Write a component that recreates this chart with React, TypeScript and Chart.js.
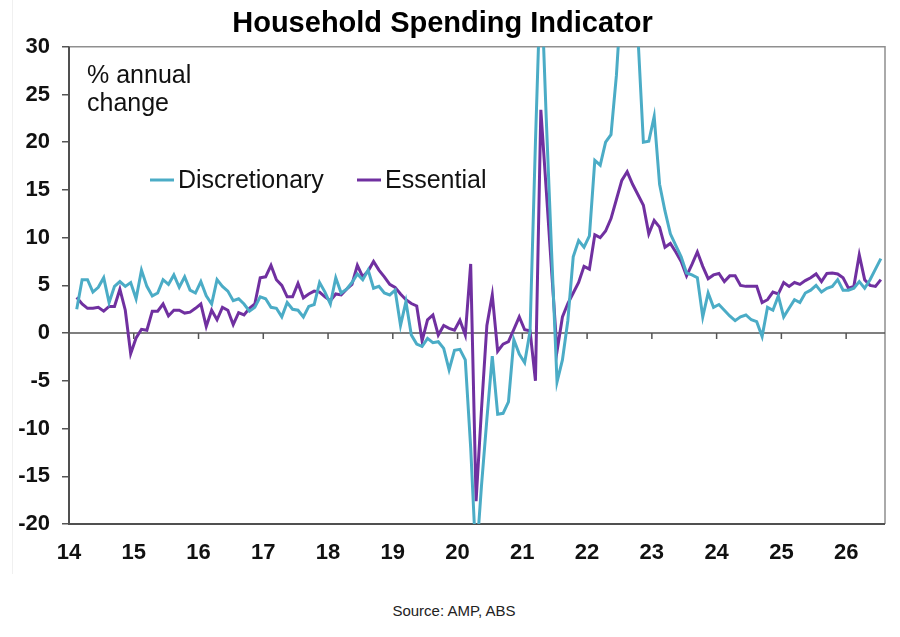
import { useEffect, useRef } from 'react';
import { Chart, registerables } from 'chart.js';

Chart.register(...registerables);

// monthly data, first observation ~Feb 2014 (axis is in 2-digit years)
const FIRST_MONTH = 14 + 1.43 / 12;
const yearTicks = [14, 15, 16, 17, 18, 19, 20, 21, 22, 23, 24, 25, 26];

const discretionary = [
  2.5, 5.6, 5.6, 4.3, 4.8, 5.8, 3.2, 4.9, 5.4, 4.9,
  5.3, 3.6, 6.6, 4.9, 3.9, 4.2, 5.6, 5.1, 6.1, 4.8,
  5.9, 4.5, 4.2, 5.4, 3.9, 3.05, 5.6, 4.9, 4.4, 3.4,
  3.6, 3.05, 2.3, 2.7, 3.8, 3.6, 2.7, 2.6, 1.7, 3.2,
  2.5, 2.4, 1.7, 2.8, 3.0, 5.3, 4.3, 3.05, 5.8, 4.2,
  4.6, 5.3, 6.2, 5.6, 6.6, 4.7, 4.9, 4.2, 4.0, 4.5,
  0.8, 3.3, -0.2, -1.15, -1.4, -0.55, -1.0, -0.9, -1.6, -3.85,
  -1.8, -1.7, -2.8, -12, -24, -16, -9, -2.4, -8.5, -8.4,
  -7.2, -0.7, -2.2, -3.1, 0.2, 20, 38, 22.5, 8.4, -5.1,
  -2.8, 1.3, 8.0, 9.7, 9.0, 10.2, 18.1, 17.6, 20.0, 20.8,
  27, 36, 42, 38, 31, 20.0, 20.1, 22.7, 15.6, 12.8,
  10.4, 9.2, 8.0, 6.3, 6.1, 5.8, 1.7, 4.2, 2.7, 3.0,
  2.4, 1.8, 1.3, 1.7, 1.9, 1.4, 1.2, -0.35, 2.7, 2.4,
  3.9, 1.7, 2.6, 3.5, 3.2, 4.2, 4.5, 5.0, 4.3, 4.7,
  4.9, 5.6, 4.5, 4.5, 4.7, 5.4, 4.7, 5.6, 6.7, 7.8,
];

const essential = [
  3.75, 3.05, 2.6, 2.6, 2.7, 2.3, 2.8, 2.8, 4.6, 2.4,
  -2.15, -0.5, 0.4, 0.3, 2.3, 2.3, 3.05, 1.8, 2.4, 2.4,
  2.1, 2.2, 2.6, 3.05, 0.7, 2.4, 1.4, 2.7, 2.4, 0.9,
  2.15, 1.9, 2.6, 3.05, 5.8, 5.9, 7.1, 5.6, 5.0, 3.8,
  3.8, 5.2, 3.7, 4.1, 4.4, 4.3, 3.8, 3.4, 4.1, 4.0,
  4.6, 5.1, 7.1, 5.9, 6.5, 7.5, 6.6, 5.9, 5.1, 4.8,
  4.1, 3.5, 3.1, 2.85, -0.8, 1.4, 1.9, -0.2, 0.8, 0.5,
  0.3, 1.35, -0.2, 7.25, -17.6, -8, 0.8, 4.0, -1.9, -1.15,
  -0.9, 0.4, 1.7, 0.35, 0.25, -5.0, 23.4, 15, 6.5, -1.9,
  1.7, 3.1, 4.2, 5.3, 7.0, 6.7, 10.3, 10.0, 10.7, 12.0,
  14.0, 16.0, 16.9, 15.6, 14.5, 13.4, 10.4, 11.8, 11.1, 9.0,
  9.4, 8.5, 7.5, 6.0, 7.2, 8.5, 7.0, 5.7, 6.1, 6.25,
  5.4, 6.0, 6.0, 5.0, 4.9, 4.9, 4.9, 3.2, 3.5, 4.3,
  4.1, 5.3, 4.9, 5.3, 5.1, 5.5, 5.8, 6.2, 5.4, 6.25,
  6.3, 6.2, 5.8, 4.7, 4.9, 8.2, 5.6, 5.0, 4.9, 5.6,
];

const FONT = "'Liberation Sans', Arial, sans-serif";
const BLUE = '#4BACC6';
const PURPLE = '#7030A0';

const toPoints = (values: number[]) =>
  values.map((y, i) => ({ x: FIRST_MONTH + i / 12, y }));

// frame, zero line with year ticks, in-chart legend and unit note
const framePlugin = {
  id: 'frame',
  beforeDatasetsDraw(chart: any) {
    const { ctx, chartArea, scales } = chart;
    const { left, right, top, bottom } = chartArea;
    ctx.save();
    ctx.strokeStyle = '#8f8f8f';
    ctx.lineWidth = 1.5;
    ctx.beginPath();
    ctx.moveTo(left, top);
    ctx.lineTo(right, top);
    ctx.lineTo(right, bottom);
    ctx.stroke();

    ctx.strokeStyle = '#505050';
    ctx.lineWidth = 2;
    ctx.beginPath();
    ctx.moveTo(left, top);
    ctx.lineTo(left, bottom);
    ctx.lineTo(right, bottom);
    ctx.stroke();

    const zy = scales.y.getPixelForValue(0);
    ctx.strokeStyle = '#555';
    ctx.lineWidth = 1.5;
    ctx.beginPath();
    ctx.moveTo(left, zy);
    ctx.lineTo(right, zy);
    yearTicks.forEach((yr) => {
      const px = scales.x.getPixelForValue(yr);
      ctx.moveTo(px, zy);
      ctx.lineTo(px, zy + 6);
    });
    ctx.stroke();
    ctx.restore();
  },
  afterDraw(chart: any) {
    const { ctx } = chart;
    ctx.save();
    ctx.fillStyle = '#111';
    ctx.textBaseline = 'alphabetic';
    ctx.textAlign = 'left';
    ctx.font = `25px ${FONT}`;
    ctx.fillText('% annual', 87, 83);
    ctx.fillText('change', 87, 111);

    const items = [
      { x: 150, ds: chart.data.datasets[0] },
      { x: 357, ds: chart.data.datasets[1] },
    ];
    items.forEach(({ x, ds }) => {
      ctx.strokeStyle = ds.borderColor;
      ctx.lineWidth = 3;
      ctx.beginPath();
      ctx.moveTo(x, 180);
      ctx.lineTo(x + 24, 180);
      ctx.stroke();
      ctx.fillText(ds.label, x + 28, 188);
    });
    ctx.restore();
  },
};

export default function App() {
  const chartRef = useRef<HTMLCanvasElement>(null);

  useEffect(() => {
    if (!chartRef.current) return;

    const chart = new Chart(chartRef.current, {
      type: 'line',
      data: {
        datasets: [
          {
            label: 'Discretionary',
            data: toPoints(discretionary),
            borderColor: BLUE,
            backgroundColor: BLUE,
            borderWidth: 3,
            pointRadius: 0,
            tension: 0,
          },
          {
            label: 'Essential',
            data: toPoints(essential),
            borderColor: PURPLE,
            backgroundColor: PURPLE,
            borderWidth: 3,
            pointRadius: 0,
            tension: 0,
          },
        ],
      },
      options: {
        responsive: true,
        maintainAspectRatio: false,
        animation: false,
        layout: { padding: { top: 0, right: 15, bottom: 0, left: 0 } },
        plugins: {
          legend: { display: false },
          tooltip: { enabled: false },
          title: {
            display: true,
            text: 'Household Spending Indicator',
            color: '#000',
            font: { family: FONT, size: 29, weight: 'bold' },
            padding: { top: 7, bottom: 5 },
          },
        },
        scales: {
          x: {
            type: 'linear',
            min: 14,
            max: 26.6,
            afterFit: (scale: any) => { scale.height = 56; },
            grid: { display: false, drawTicks: false },
            border: { display: false },
            ticks: {
              stepSize: 1,
              includeBounds: false,
              padding: 16,
              color: '#111',
              font: { family: FONT, size: 22, weight: 'bold' },
            },
          },
          y: {
            min: -20,
            max: 30,
            afterFit: (scale: any) => { scale.width = 69; },
            grid: { drawOnChartArea: false, tickLength: 7, tickColor: '#555', lineWidth: 1.5 },
            border: { display: false },
            ticks: {
              stepSize: 5,
              padding: 12,
              color: '#111',
              font: { family: FONT, size: 22, weight: 'bold' },
            },
          },
        },
      },
      plugins: [framePlugin],
    });

    return () => {
      chart.destroy();
    };
  }, []);

  return (
    <div style={{ position: 'absolute', left: 0, top: 0, width: 900, height: 637, background: '#fff' }}>
      <div style={{ position: 'absolute', left: 12, top: 0, width: 1, height: 574, background: '#f0f0f0' }} />
      <div style={{ position: 'relative', width: 900, height: 580 }}>
        <canvas ref={chartRef} />
      </div>
      <div
        style={{
          position: 'absolute',
          top: 602,
          left: 0,
          width: 908,
          textAlign: 'center',
          fontFamily: FONT,
          fontSize: 15,
          color: '#222',
        }}
      >
        Source: AMP, ABS
      </div>
    </div>
  );
}
